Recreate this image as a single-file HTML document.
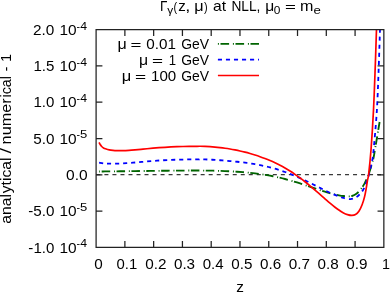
<!DOCTYPE html>
<html><head><meta charset="utf-8"><title>plot</title>
<style>html,body{margin:0;padding:0;background:#fff;}svg{display:block;will-change:transform;}</style></head>
<body>
<svg width="390" height="293" viewBox="0 0 390 293">
<defs><clipPath id="cp"><rect x="96.10" y="29.10" width="287.75" height="218.30"/></clipPath></defs>
<rect x="0" y="0" width="390" height="293" fill="#fff"/>
<path d="M96.40,174.55 H383.85" stroke="#3a3a3a" stroke-width="1.2" stroke-dasharray="4 4.02" fill="none"/>
<g fill="none" stroke-linejoin="round" stroke-width="1.7" clip-path="url(#cp)">
<path d="M99.10,171.50 C100.08,171.49 103.02,171.46 105.00,171.44 C106.98,171.42 109.00,171.39 111.00,171.37 C113.00,171.35 115.00,171.33 117.00,171.31 C119.00,171.29 121.00,171.26 123.00,171.24 C125.00,171.22 127.00,171.19 129.00,171.17 C131.00,171.15 133.00,171.13 135.00,171.11 C137.00,171.09 139.00,171.06 141.00,171.03 C143.00,171.00 145.00,170.98 147.00,170.96 C149.00,170.94 151.00,170.91 153.00,170.89 C155.00,170.86 157.00,170.84 159.00,170.81 C161.00,170.78 163.00,170.76 165.00,170.74 C167.00,170.72 169.00,170.69 171.00,170.67 C173.00,170.65 175.00,170.63 177.00,170.61 C179.00,170.59 181.00,170.57 183.00,170.56 C185.00,170.55 187.00,170.54 189.00,170.53 C191.00,170.52 193.00,170.52 195.00,170.52 C197.00,170.52 199.00,170.53 201.00,170.54 C203.00,170.55 205.00,170.57 207.00,170.60 C209.00,170.63 211.00,170.66 213.00,170.70 C215.00,170.74 217.00,170.79 219.00,170.85 C221.00,170.91 223.00,170.99 225.00,171.07 C227.00,171.15 229.00,171.24 231.00,171.35 C233.00,171.46 235.00,171.57 237.00,171.71 C239.00,171.85 241.00,172.00 243.00,172.17 C245.00,172.34 247.00,172.52 249.00,172.73 C251.00,172.94 253.00,173.16 255.00,173.41 C257.00,173.66 259.00,173.93 261.00,174.22 C263.00,174.51 265.00,174.82 267.00,175.16 C269.00,175.50 271.00,175.87 273.00,176.27 C275.00,176.67 277.00,177.09 279.00,177.55 C281.00,178.01 283.00,178.50 285.00,179.01 C287.00,179.52 289.00,180.07 291.00,180.64 C293.00,181.21 295.00,181.81 297.00,182.43 C299.00,183.05 301.00,183.70 303.00,184.36 C305.00,185.02 307.00,185.69 309.00,186.37 C311.00,187.05 313.00,187.74 315.00,188.41 C317.00,189.08 319.00,189.76 321.00,190.41 C323.00,191.06 325.00,191.71 327.00,192.30 C329.00,192.89 331.00,193.47 333.00,193.97 C335.00,194.47 337.25,194.98 339.00,195.32 C340.75,195.66 342.00,195.84 343.50,196.00 C345.00,196.16 346.58,196.30 348.00,196.30 C349.42,196.30 350.60,196.42 352.00,196.00 C353.40,195.58 354.85,195.03 356.40,193.80 C357.95,192.57 359.95,190.30 361.30,188.60 C362.65,186.90 363.62,185.17 364.50,183.60 C365.38,182.03 365.92,180.72 366.60,179.20 C367.28,177.68 367.53,177.70 368.60,174.50 C369.67,171.30 371.95,164.08 373.00,160.00 C374.05,155.92 374.30,153.33 374.90,150.00 C375.50,146.67 375.82,144.67 376.60,140.00 C377.38,135.33 379.10,125.00 379.60,122.00" stroke="#006400" stroke-width="1.85" stroke-dasharray="0.991 1.586 8.526 3.767"/>
<path d="M99.10,162.60 C99.92,162.73 102.35,163.24 104.00,163.40 C105.65,163.56 107.17,163.54 109.00,163.58 C110.83,163.62 113.00,163.67 115.00,163.65 C117.00,163.63 119.00,163.56 121.00,163.47 C123.00,163.38 125.00,163.25 127.00,163.12 C129.00,162.99 131.00,162.83 133.00,162.67 C135.00,162.51 137.00,162.32 139.00,162.15 C141.00,161.98 143.00,161.80 145.00,161.63 C147.00,161.46 149.00,161.28 151.00,161.12 C153.00,160.96 155.00,160.81 157.00,160.67 C159.00,160.53 161.00,160.40 163.00,160.28 C165.00,160.16 167.00,160.06 169.00,159.97 C171.00,159.88 173.00,159.80 175.00,159.73 C177.00,159.66 179.00,159.61 181.00,159.57 C183.00,159.53 185.00,159.49 187.00,159.47 C189.00,159.45 191.00,159.44 193.00,159.44 C195.00,159.44 197.83,159.49 199.00,159.46 C200.17,159.44 199.00,159.30 200.00,159.29 C201.00,159.28 203.33,159.35 205.00,159.41 C206.67,159.47 208.33,159.54 210.00,159.62 C211.67,159.70 213.33,159.79 215.00,159.89 C216.67,159.99 218.33,160.11 220.00,160.23 C221.67,160.35 223.33,160.48 225.00,160.61 C226.67,160.75 228.33,160.89 230.00,161.04 C231.67,161.19 233.33,161.35 235.00,161.52 C236.67,161.69 238.33,161.88 240.00,162.07 C241.67,162.26 243.33,162.47 245.00,162.69 C246.67,162.91 248.33,163.14 250.00,163.39 C251.67,163.64 253.33,163.91 255.00,164.20 C256.67,164.49 258.33,164.79 260.00,165.12 C261.67,165.45 263.33,165.80 265.00,166.18 C266.67,166.56 268.33,166.95 270.00,167.38 C271.67,167.81 273.33,168.26 275.00,168.74 C276.67,169.22 278.33,169.74 280.00,170.28 C281.67,170.82 283.33,171.38 285.00,171.98 C286.67,172.58 288.33,173.21 290.00,173.86 C291.67,174.51 293.33,175.19 295.00,175.90 C296.67,176.61 298.33,177.34 300.00,178.10 C301.67,178.85 303.33,179.63 305.00,180.43 C306.67,181.23 308.33,182.05 310.00,182.87 C311.67,183.69 313.33,184.53 315.00,185.37 C316.67,186.21 318.33,187.06 320.00,187.89 C321.67,188.72 323.33,189.56 325.00,190.37 C326.67,191.18 328.33,191.98 330.00,192.74 C331.67,193.50 333.33,194.24 335.00,194.91 C336.67,195.58 338.58,196.27 340.00,196.78 C341.42,197.29 341.75,197.61 343.50,197.99 C345.25,198.37 348.35,199.22 350.50,199.08 C352.65,198.95 354.60,198.29 356.40,197.18 C358.20,196.07 359.97,194.05 361.30,192.44 C362.63,190.83 363.45,189.54 364.40,187.50 C365.35,185.46 366.25,182.37 367.00,180.20 C367.75,178.03 368.02,177.87 368.90,174.50 C369.78,171.13 371.52,164.08 372.30,160.00 C373.08,155.92 372.83,158.33 373.60,150.00 C374.37,141.67 376.03,124.17 376.90,110.00 C377.77,95.83 378.28,78.50 378.80,65.00 C379.32,51.50 379.80,35.00 380.00,29.00" stroke="#0000ff" stroke-width="1.8" stroke-dasharray="4.1 3.93"/>
<path d="M99.10,142.40 C99.28,142.75 99.77,143.82 100.20,144.50 C100.63,145.18 101.15,145.93 101.70,146.50 C102.25,147.07 102.87,147.52 103.50,147.90 C104.13,148.28 104.53,148.47 105.50,148.80 C106.47,149.13 108.05,149.63 109.30,149.90 C110.55,150.17 111.72,150.28 113.00,150.40 C114.28,150.52 115.33,150.59 117.00,150.64 C118.67,150.69 121.00,150.74 123.00,150.70 C125.00,150.66 127.00,150.54 129.00,150.41 C131.00,150.28 133.00,150.10 135.00,149.92 C137.00,149.74 139.00,149.54 141.00,149.34 C143.00,149.14 145.00,148.93 147.00,148.74 C149.00,148.55 151.00,148.37 153.00,148.20 C155.00,148.03 157.00,147.86 159.00,147.71 C161.00,147.56 163.00,147.43 165.00,147.30 C167.00,147.18 169.00,147.06 171.00,146.96 C173.00,146.86 175.00,146.76 177.00,146.68 C179.00,146.60 181.00,146.54 183.00,146.49 C185.00,146.44 187.00,146.40 189.00,146.37 C191.00,146.34 193.17,146.36 195.00,146.34 C196.83,146.32 198.33,146.26 200.00,146.27 C201.67,146.28 203.33,146.33 205.00,146.39 C206.67,146.45 208.33,146.54 210.00,146.65 C211.67,146.76 213.33,146.89 215.00,147.04 C216.67,147.19 218.33,147.37 220.00,147.57 C221.67,147.77 223.33,147.98 225.00,148.22 C226.67,148.46 228.33,148.72 230.00,149.00 C231.67,149.28 233.33,149.59 235.00,149.92 C236.67,150.25 238.33,150.59 240.00,150.97 C241.67,151.34 243.33,151.75 245.00,152.17 C246.67,152.59 248.33,153.04 250.00,153.51 C251.67,153.98 253.33,154.48 255.00,155.01 C256.67,155.54 258.33,156.09 260.00,156.68 C261.67,157.27 263.33,157.88 265.00,158.53 C266.67,159.18 268.33,159.85 270.00,160.57 C271.67,161.29 273.33,162.04 275.00,162.83 C276.67,163.62 278.33,164.44 280.00,165.31 C281.67,166.18 283.33,167.09 285.00,168.05 C286.67,169.01 288.33,170.01 290.00,171.06 C291.67,172.11 293.33,173.20 295.00,174.34 C296.67,175.48 298.33,176.67 300.00,177.90 C301.67,179.13 303.33,180.41 305.00,181.73 C306.67,183.05 308.33,184.42 310.00,185.81 C311.67,187.20 313.33,188.63 315.00,190.07 C316.67,191.51 318.33,192.99 320.00,194.46 C321.67,195.93 323.33,197.42 325.00,198.87 C326.67,200.32 328.33,201.79 330.00,203.18 C331.67,204.57 333.33,205.96 335.00,207.23 C336.67,208.50 338.58,209.84 340.00,210.80 C341.42,211.76 342.25,212.37 343.50,213.00 C344.75,213.63 346.12,214.20 347.50,214.60 C348.88,215.00 350.47,215.40 351.80,215.40 C353.13,215.40 354.32,215.28 355.50,214.60 C356.68,213.92 357.80,212.93 358.90,211.30 C360.00,209.67 361.15,207.25 362.10,204.80 C363.05,202.35 363.92,199.33 364.60,196.60 C365.28,193.87 365.72,191.13 366.20,188.40 C366.68,185.67 367.10,182.52 367.50,180.20 C367.90,177.88 368.02,179.53 368.60,174.50 C369.18,169.47 370.18,160.75 371.00,150.00 C371.82,139.25 372.78,124.17 373.50,110.00 C374.22,95.83 374.80,78.50 375.30,65.00 C375.80,51.50 376.30,35.00 376.50,29.00" stroke="#ff0000"/>
</g>
<g fill="none" stroke-width="1.7">
<path d="M217.9,43.9 H259" stroke="#006400" stroke-width="1.85" stroke-dasharray="1 1.6 8.6 3.8"/>
<path d="M217.9,59.7 H259" stroke="#0000ff" stroke-width="1.8" stroke-dasharray="4.1 3.93"/>
<path d="M217.9,75.5 H259" stroke="#ff0000"/>
</g>
<path d="M96.10,29.60 H383.85 V247.40 H96.10 Z M124.88,247.40 v-6.30 M124.88,29.60 v6.30 M153.65,247.40 v-6.30 M153.65,29.60 v6.30 M182.43,247.40 v-6.30 M182.43,29.60 v6.30 M211.20,247.40 v-6.30 M211.20,29.60 v6.30 M239.97,247.40 v-6.30 M239.97,29.60 v6.30 M268.75,247.40 v-6.30 M268.75,29.60 v6.30 M297.52,247.40 v-6.30 M297.52,29.60 v6.30 M326.30,247.40 v-6.30 M326.30,29.60 v6.30 M355.08,247.40 v-6.30 M355.08,29.60 v6.30 M96.10,65.90 h6.30 M383.85,65.90 h-6.30 M96.10,102.20 h6.30 M383.85,102.20 h-6.30 M96.10,138.50 h6.30 M383.85,138.50 h-6.30 M96.10,174.80 h6.30 M383.85,174.80 h-6.30 M96.10,211.10 h6.30 M383.85,211.10 h-6.30" stroke="#222" stroke-width="1.25" fill="none"/>
<g font-family="&quot;Liberation Sans&quot;, sans-serif" font-size="13.9px" fill="#000">
<text x="160.00" y="11.20" textLength="7.37" lengthAdjust="spacingAndGlyphs">Γ</text>
<text x="167.26" y="13.60" textLength="5.97" lengthAdjust="spacingAndGlyphs" font-size="11.1px">γ</text>
<text x="173.62" y="10.70" textLength="3.63" lengthAdjust="spacingAndGlyphs" font-size="12.8px">(</text>
<text x="178.20" y="11.20" textLength="7.54" lengthAdjust="spacingAndGlyphs">z</text>
<text x="185.38" y="11.20" textLength="5.05" lengthAdjust="spacingAndGlyphs">,</text>
<text x="194.21" y="11.20" textLength="9.38" lengthAdjust="spacingAndGlyphs">μ</text>
<text x="204.05" y="10.70" textLength="3.63" lengthAdjust="spacingAndGlyphs" font-size="12.8px">)</text>
<text x="213.04" y="11.20" textLength="13.07" lengthAdjust="spacingAndGlyphs">at</text>
<text x="231.38" y="11.20" textLength="28.96" lengthAdjust="spacingAndGlyphs">NLL,</text>
<text x="265.26" y="11.20" textLength="8.99" lengthAdjust="spacingAndGlyphs">μ</text>
<text x="273.84" y="13.60" textLength="6.62" lengthAdjust="spacingAndGlyphs" font-size="11.1px">0</text>
<text x="285.10" y="11.10" textLength="10.91" lengthAdjust="spacingAndGlyphs" font-size="10.4px">=</text>
<text x="300.14" y="11.20" textLength="13.41" lengthAdjust="spacingAndGlyphs">m</text>
<text x="313.45" y="13.60" textLength="7.34" lengthAdjust="spacingAndGlyphs" font-size="11.1px">e</text>
<text x="117.62" y="49.00" textLength="9.25" lengthAdjust="spacingAndGlyphs">μ</text>
<text x="130.60" y="49.10" textLength="10.91" lengthAdjust="spacingAndGlyphs" font-size="10.4px">=</text>
<text x="146.31" y="49.00" textLength="29.63" lengthAdjust="spacingAndGlyphs">0.01</text>
<text x="181.30" y="49.00" textLength="27.85" lengthAdjust="spacingAndGlyphs">GeV</text>
<text x="138.94" y="64.80" textLength="9.12" lengthAdjust="spacingAndGlyphs">μ</text>
<text x="152.09" y="64.90" textLength="11.03" lengthAdjust="spacingAndGlyphs" font-size="10.4px">=</text>
<text x="168.80" y="64.80" textLength="7.34" lengthAdjust="spacingAndGlyphs">1</text>
<text x="181.30" y="64.80" textLength="27.85" lengthAdjust="spacingAndGlyphs">GeV</text>
<text x="121.89" y="80.60" textLength="9.51" lengthAdjust="spacingAndGlyphs">μ</text>
<text x="135.08" y="80.70" textLength="11.15" lengthAdjust="spacingAndGlyphs" font-size="10.4px">=</text>
<text x="151.05" y="80.60" textLength="25.23" lengthAdjust="spacingAndGlyphs">100</text>
<text x="181.30" y="80.60" textLength="27.85" lengthAdjust="spacingAndGlyphs">GeV</text>
<text x="33.03" y="34.85" textLength="21.35" lengthAdjust="spacingAndGlyphs" font-size="15.0px">2.0</text>
<text x="59.43" y="34.85" textLength="17.16" lengthAdjust="spacingAndGlyphs" font-size="15.0px">10</text>
<text x="76.53" y="29.70" textLength="3.53" lengthAdjust="spacingAndGlyphs" font-size="11.4px">-</text>
<text x="80.23" y="29.70" textLength="6.83" lengthAdjust="spacingAndGlyphs" font-size="11.4px">4</text>
<text x="33.45" y="70.80" textLength="20.97" lengthAdjust="spacingAndGlyphs" font-size="15.0px">1.5</text>
<text x="59.43" y="70.80" textLength="17.16" lengthAdjust="spacingAndGlyphs" font-size="15.0px">10</text>
<text x="76.53" y="65.65" textLength="3.53" lengthAdjust="spacingAndGlyphs" font-size="11.4px">-</text>
<text x="80.23" y="65.65" textLength="6.83" lengthAdjust="spacingAndGlyphs" font-size="11.4px">4</text>
<text x="33.46" y="107.10" textLength="20.92" lengthAdjust="spacingAndGlyphs" font-size="15.0px">1.0</text>
<text x="59.43" y="107.10" textLength="17.16" lengthAdjust="spacingAndGlyphs" font-size="15.0px">10</text>
<text x="76.53" y="101.95" textLength="3.53" lengthAdjust="spacingAndGlyphs" font-size="11.4px">-</text>
<text x="80.23" y="101.95" textLength="6.83" lengthAdjust="spacingAndGlyphs" font-size="11.4px">4</text>
<text x="33.19" y="143.55" textLength="21.19" lengthAdjust="spacingAndGlyphs" font-size="15.0px">5.0</text>
<text x="59.43" y="143.55" textLength="17.16" lengthAdjust="spacingAndGlyphs" font-size="15.0px">10</text>
<text x="76.53" y="138.40" textLength="3.53" lengthAdjust="spacingAndGlyphs" font-size="11.4px">-</text>
<text x="79.98" y="138.40" textLength="7.26" lengthAdjust="spacingAndGlyphs" font-size="11.4px">5</text>
<text x="66.09" y="179.85" textLength="21.60" lengthAdjust="spacingAndGlyphs" font-size="15.0px">0.0</text>
<text x="28.24" y="216.10" textLength="5.03" lengthAdjust="spacingAndGlyphs" font-size="15.0px">-</text>
<text x="33.19" y="216.10" textLength="21.19" lengthAdjust="spacingAndGlyphs" font-size="15.0px">5.0</text>
<text x="59.43" y="216.10" textLength="17.16" lengthAdjust="spacingAndGlyphs" font-size="15.0px">10</text>
<text x="76.53" y="210.95" textLength="3.53" lengthAdjust="spacingAndGlyphs" font-size="11.4px">-</text>
<text x="79.98" y="210.95" textLength="7.26" lengthAdjust="spacingAndGlyphs" font-size="11.4px">5</text>
<text x="28.24" y="252.50" textLength="5.03" lengthAdjust="spacingAndGlyphs" font-size="15.0px">-</text>
<text x="33.46" y="252.50" textLength="20.92" lengthAdjust="spacingAndGlyphs" font-size="15.0px">1.0</text>
<text x="59.43" y="252.50" textLength="17.16" lengthAdjust="spacingAndGlyphs" font-size="15.0px">10</text>
<text x="76.53" y="247.35" textLength="3.53" lengthAdjust="spacingAndGlyphs" font-size="11.4px">-</text>
<text x="80.23" y="247.35" textLength="6.83" lengthAdjust="spacingAndGlyphs" font-size="11.4px">4</text>
<text x="94.21" y="268.50" textLength="8.48" lengthAdjust="spacingAndGlyphs" font-size="15.0px">0</text>
<text x="116.52" y="268.50" textLength="20.70" lengthAdjust="spacingAndGlyphs" font-size="15.0px">0.1</text>
<text x="145.22" y="268.50" textLength="21.26" lengthAdjust="spacingAndGlyphs" font-size="15.0px">0.2</text>
<text x="173.95" y="268.50" textLength="21.15" lengthAdjust="spacingAndGlyphs" font-size="15.0px">0.3</text>
<text x="202.67" y="268.50" textLength="20.93" lengthAdjust="spacingAndGlyphs" font-size="15.0px">0.4</text>
<text x="231.39" y="268.50" textLength="21.12" lengthAdjust="spacingAndGlyphs" font-size="15.0px">0.5</text>
<text x="260.11" y="268.50" textLength="21.15" lengthAdjust="spacingAndGlyphs" font-size="15.0px">0.6</text>
<text x="288.82" y="268.50" textLength="21.26" lengthAdjust="spacingAndGlyphs" font-size="15.0px">0.7</text>
<text x="317.55" y="268.50" textLength="21.15" lengthAdjust="spacingAndGlyphs" font-size="15.0px">0.8</text>
<text x="346.26" y="268.50" textLength="21.21" lengthAdjust="spacingAndGlyphs" font-size="15.0px">0.9</text>
<text x="381.91" y="268.50" textLength="7.98" lengthAdjust="spacingAndGlyphs" font-size="15.0px">1</text>
<text x="236.29" y="291.90" textLength="7.66" lengthAdjust="spacingAndGlyphs">z</text>
<text transform="translate(11.30,224.00) rotate(-90)" x="0.34" y="0" textLength="29.71" lengthAdjust="spacingAndGlyphs">anal</text>
<text transform="translate(11.30,224.00) rotate(-90)" x="30.77" y="0" textLength="35.67" lengthAdjust="spacingAndGlyphs">ytical</text>
<text transform="translate(11.30,224.00) rotate(-90)" x="70.50" y="0" textLength="5.40" lengthAdjust="spacingAndGlyphs">/</text>
<text transform="translate(11.30,224.00) rotate(-90)" x="79.63" y="0" textLength="45.94" lengthAdjust="spacingAndGlyphs">numer</text>
<text transform="translate(11.30,224.00) rotate(-90)" x="126.56" y="0" textLength="21.28" lengthAdjust="spacingAndGlyphs">ical</text>
<text transform="translate(11.30,224.00) rotate(-90)" x="152.55" y="0" textLength="4.89" lengthAdjust="spacingAndGlyphs">-</text>
<text transform="translate(11.30,224.00) rotate(-90)" x="162.14" y="0" textLength="7.72" lengthAdjust="spacingAndGlyphs" font-size="15.0px">1</text>
</g>
</svg>
</body></html>
